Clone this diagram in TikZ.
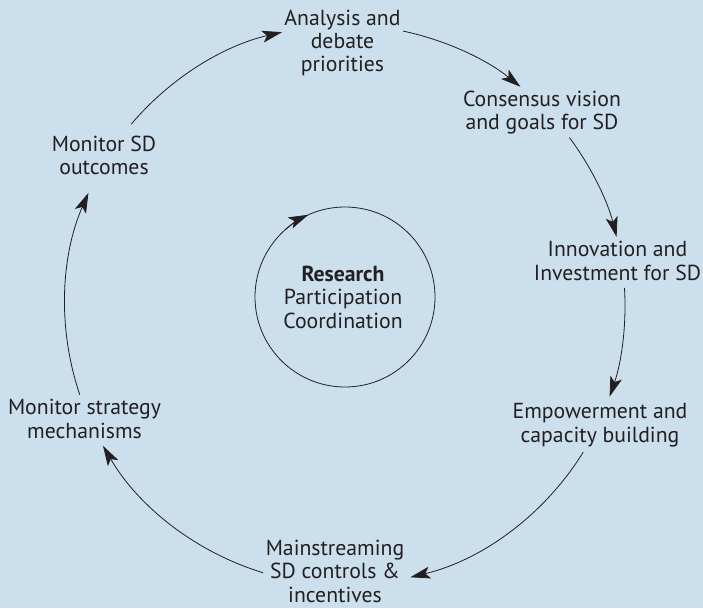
\documentclass[tikz,border=0pt]{standalone}
\usepackage{fontspec}
\setmainfont{PT Sans}
\usetikzlibrary{arrows.meta}
\definecolor{bg}{HTML}{CBDFED}
\definecolor{ink}{HTML}{231F20}
\begin{document}
\begin{tikzpicture}[x=0.75pt,y=0.75pt,
  lbl/.style={align=center,anchor=base,font=\fontsize{16.3}{17.6}\selectfont,text=ink,inner sep=0pt},
  flow/.style={draw=ink,line width=0.6pt,-{Stealth[length=15pt,width=9pt,inset=3.5pt]}},
  ring/.style={draw=ink,line width=0.6pt}
]
\fill[bg] (0,0) rectangle (703,608);
\useasboundingbox (0,0) rectangle (703,608);
\coordinate (C) at (345,303);
\coordinate (Ci) at (345,311);
% labels (anchored at the baseline of their last line)
\node[lbl] (ana) at (342.5,536) {Analysis and\\debate\\priorities};
\node[lbl] (con) at (542,478) {Consensus vision\\and goals for SD};
\node[lbl] (inn) at (617.5,328) {Innovation and\\Investment for SD};
\node[lbl] (emp) at (600,166) {Empowerment and\\capacity building};
\node[lbl] (mai) at (335,6) {Mainstreaming\\SD controls \&\\incentives};
\node[lbl] (mst) at (84.5,170) {Monitor strategy\\mechanisms};
\node[lbl] (msd) at (104,433) {Monitor SD\\outcomes};
\node[lbl] (res) at (343,280) {\textbf{Research}\\Participation\\Coordination};
% arc end points
\coordinate (s1) at ([shift={(139.8:210pt)}]C);
\coordinate (s2) at ([shift={(78:210pt)}]C);
\coordinate (s3) at ([shift={(36.7:210pt)}]C);
\coordinate (s4) at ([shift={(3.5:210pt)}]C);
\coordinate (s5) at ([shift={(-31.7:210pt)}]C);
\coordinate (s6) at ([shift={(-107:210pt)}]C);
\coordinate (s7) at ([shift={(-161.3:210pt)}]C);
\draw[flow] (s1) arc[start angle=139.8,end angle=103,radius=210pt];
\draw[flow] (s2) arc[start angle=78,end angle=51.2,radius=210pt];
\draw[flow] (s3) arc[start angle=36.7,end angle=14.1,radius=210pt];
\draw[flow] (s4) arc[start angle=3.5,end angle=-19.1,radius=210pt];
\draw[flow] (s5) arc[start angle=-31.7,end angle=-76.5,radius=210pt];
\draw[flow] (s6) arc[start angle=-107,end angle=-149.8,radius=210pt];
\draw[flow] (s7) arc[start angle=-161.3,end angle=-203.6,radius=210pt];
% inner cycle
\draw[ring] (Ci) circle[radius=67.5pt];
\coordinate (r1) at ([shift={(132:67.5pt)}]Ci);
\draw[flow] (r1) arc[start angle=132,end angle=114,radius=67.5pt];
\end{tikzpicture}
\end{document}
